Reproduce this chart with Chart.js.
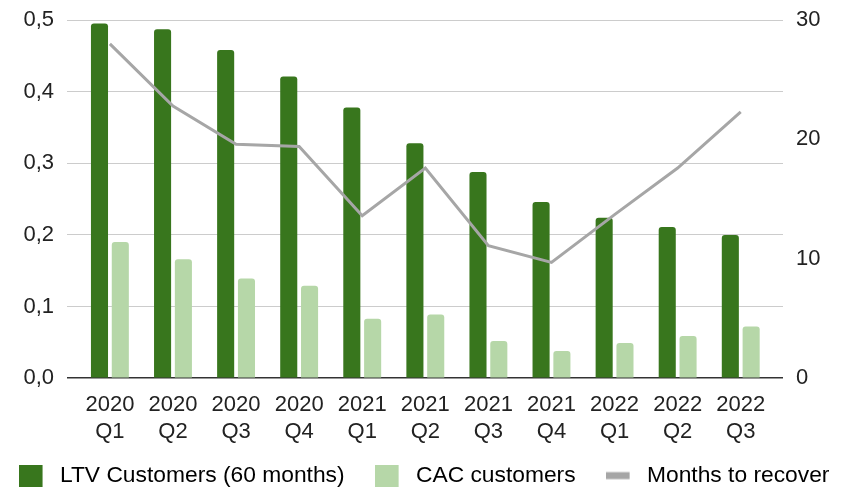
<!DOCTYPE html>
<html>
<head>
<meta charset="utf-8">
<script src="https://cdn.jsdelivr.net/npm/chart.js@4"></script>
<style>
  html, body { margin: 0; padding: 0; background: #fff; }
  #wrap { width: 848px; height: 489px; }
</style>
</head>
<body>
<div id="wrap"><canvas id="comboChart" width="848" height="489"></canvas></div>
<script>
// data
const quarters = ["2020 Q1", "2020 Q2", "2020 Q3", "2020 Q4", "2021 Q1", "2021 Q2",
                  "2021 Q3", "2021 Q4", "2022 Q1", "2022 Q2", "2022 Q3"];
const ltvCustomers = [0.495, 0.487, 0.458, 0.421, 0.378, 0.328, 0.288, 0.246, 0.224, 0.211, 0.200];
const cacCustomers = [0.190, 0.166, 0.139, 0.129, 0.083, 0.089, 0.052, 0.038, 0.049, 0.059, 0.072];
const monthsToRecover = [28.0, 22.8, 19.6, 19.4, 13.6, 17.6, 11.1, 9.7, 13.7, 17.6, 22.3];
const leftTickLabels = ["0,0", "0,1", "0,2", "0,3", "0,4", "0,5"];
const rightTickLabels = ["0", "10", "20", "30"];

const DARK = "#38761d";
const LIGHT = "#b6d7a8";
const GREY = "#a6a6a6";
const FONT = "'Liberation Sans', Arial, sans-serif";

const xTickLabels = quarters.map(q => q.split(" "));

// legend markers: square for bars, thick short bar for the line
function legendMarker(color, h) {
  const c = document.createElement("canvas");
  c.width = 30; c.height = 22;
  const g = c.getContext("2d");
  g.fillStyle = color;
  g.fillRect(0, (22 - h) / 2, 24, h);
  return c;
}
const markers = [legendMarker(DARK, 22), legendMarker(LIGHT, 22), legendMarker(GREY, 7)];

const CHART = document.getElementById("comboChart");

let comboChart = new Chart(CHART, {
  type: "bar",
  data: {
    datasets: [
      {
        label: "LTV Customers (60 months)",
        data: ltvCustomers.map((v, i) => ({ x: i, y: v })),
        backgroundColor: DARK,
        borderRadius: { topLeft: 3, topRight: 3 },
        borderSkipped: "start",
        barPercentage: 0.82,
        categoryPercentage: 0.66,
        yAxisID: "y",
        order: 1
      },
      {
        label: "CAC customers",
        data: cacCustomers.map((v, i) => ({ x: i, y: v })),
        backgroundColor: LIGHT,
        borderRadius: { topLeft: 3, topRight: 3 },
        borderSkipped: "start",
        barPercentage: 0.82,
        categoryPercentage: 0.66,
        yAxisID: "y",
        order: 1
      },
      {
        type: "line",
        label: "Months to recover",
        data: monthsToRecover.map((v, i) => ({ x: i, y: v })),
        borderColor: GREY,
        backgroundColor: GREY,
        borderWidth: 3,
        pointRadius: 0,
        tension: 0,
        fill: false,
        yAxisID: "y1",
        order: 0
      }
    ]
  },
  options: {
    responsive: false,
    devicePixelRatio: 1,
    animation: false,
    layout: { padding: { top: 20, left: -20, right: -20, bottom: -8 } },
    plugins: {
      tooltip: { enabled: false },
      legend: {
        position: "bottom",
        labels: {
          usePointStyle: true,
          pointStyleWidth: 30,
          boxHeight: 22,
          padding: 30,
          color: "#222",
          font: { family: FONT, size: 22.8 },
          generateLabels: chart => chart.data.datasets.map((ds, i) => ({
            text: ds.label,
            fillStyle: ds.backgroundColor,
            strokeStyle: ds.backgroundColor,
            lineWidth: 0,
            pointStyle: markers[i],
            datasetIndex: i,
            hidden: !chart.isDatasetVisible(i)
          }))
        }
      }
    },
    scales: {
      x: {
        type: "linear",
        offset: false,
        min: -0.68,
        max: 10.67,
        grid: { display: false, drawTicks: false },
        border: { display: false },
        ticks: {
          stepSize: 1,
          includeBounds: false,
          autoSkip: false,
          maxRotation: 0,
          padding: 14,
          color: "#222",
          font: { family: FONT, size: 22, lineHeight: 1.2 },
          callback: v => Number.isInteger(v) ? xTickLabels[v] : ""
        },
        afterFit: s => {
          s.height = 56;
          // let the two-line labels run past the axis box
          s._computeLabelArea = () => null;
        }
      },
      y: {
        position: "left",
        min: 0,
        max: 0.5,
        grid: {
          drawTicks: false,
          color: c => c.tick.value === 0 ? "#333" : "#cccccc",
          lineWidth: c => c.tick.value === 0 ? 1.5 : 1
        },
        border: { display: false },
        ticks: {
          stepSize: 0.1,
          padding: 13,
          color: "#222",
          font: { family: FONT, size: 22, lineHeight: 0.5 },
          callback: v => leftTickLabels[Math.round(v * 10)]
        },
        afterFit: s => { s.width = 87; }
      },
      y1: {
        position: "right",
        min: 0,
        max: 30,
        grid: { display: false, drawTicks: false },
        border: { display: false },
        ticks: {
          stepSize: 10,
          padding: 13,
          color: "#222",
          font: { family: FONT, size: 22, lineHeight: 0.5 },
          callback: v => rightTickLabels[Math.round(v / 10)]
        },
        afterFit: s => { s.width = 85; }
      }
    }
  }
});
</script>
</body>
</html>
